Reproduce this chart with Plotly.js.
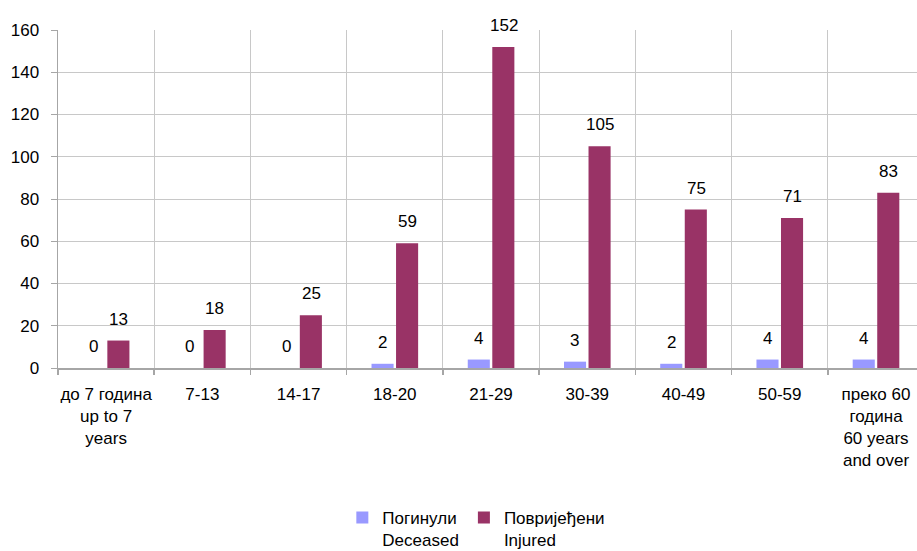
<!DOCTYPE html>
<html>
<head>
<meta charset="utf-8">
<script src="https://cdn.plot.ly/plotly-3.0.1.min.js"></script>
<style>html,body{margin:0;padding:0;background:#fff;}#chart{width:917px;height:551px;}</style>
</head>
<body>
<div id="chart"></div>
<script>
const categories = ["до 7 година<br>up to 7<br>years", "7-13", "14-17", "18-20", "21-29", "30-39", "40-49", "50-59", "преко 60<br>година<br>60 years<br>and over"];
const deceased = [0, 0, 0, 2, 4, 3, 2, 4, 4];
const injured = [13, 18, 25, 59, 152, 105, 75, 71, 83];
const deceasedName = "Погинули<br>Deceased";
const injuredName = "Повријеђени<br>Injured";
const yTicks = [0, 20, 40, 60, 80, 100, 120, 140, 160];

const FONT = "Liberation Sans, Arial, sans-serif";
const FS = 17;
const idx = categories.map((_, i) => i);

const traces = [
  {type: "bar", name: deceasedName, x: idx, y: deceased, marker: {color: "#9999FF"}, hoverinfo: "y"},
  {type: "bar", name: injuredName, x: idx, y: injured, marker: {color: "#993366"}, hoverinfo: "y"}
];

const annotations = [];
deceased.forEach((v, i) => annotations.push({x: i, y: v, text: String(v), showarrow: false, xref: "x", yref: "y", yanchor: "bottom", xshift: -12.5, yshift: 10, font: {family: FONT, size: FS, color: "#000"}}));
injured.forEach((v, i) => annotations.push({x: i, y: v, text: String(v), showarrow: false, xref: "x", yref: "y", yanchor: "bottom", xshift: 12.5, yshift: 10, font: {family: FONT, size: FS, color: "#000"}}));

const layout = {
  width: 917, height: 551,
  margin: {l: 58, r: 0, t: 30, b: 183, autoexpand: false},
  paper_bgcolor: "#fff", plot_bgcolor: "#fff",
  font: {family: FONT, size: FS, color: "#000"},
  barmode: "group",
  bargap: 0.49,
  bargroupgap: 0.1,
  showlegend: true,
  legend: {orientation: "h", x: 0.487, xanchor: "center", yref: "container", y: 0.0926, yanchor: "top", valign: "top", font: {family: FONT, size: FS}, itemwidth: 30, tracegroupgap: 0},
  xaxis: {
    type: "linear",
    range: [-0.5, 8.426],
    tickmode: "array",
    tickvals: idx,
    ticktext: categories,
    showgrid: false,
    zeroline: false,
    showline: true, linecolor: "#A6A6A6", linewidth: 1.5,
    ticks: "", tickfont: {family: FONT, size: FS},
    ticklabelstandoff: 10,
    fixedrange: true
  },
  xaxis2: {
    overlaying: "x", matches: "x",
    type: "linear",
    range: [-0.5, 8.426],
    tickmode: "array",
    tickvals: [-0.5, 0.5, 1.5, 2.5, 3.5, 4.5, 5.5, 6.5, 7.5],
    showticklabels: false,
    showgrid: true, gridcolor: "#C8C8C8", gridwidth: 1,
    ticks: "outside", ticklen: 6, tickcolor: "#A6A6A6", tickwidth: 1.5,
    zeroline: false
  },
  yaxis: {
    range: [0, 160],
    tickmode: "array",
    tickvals: yTicks,
    showgrid: true, gridcolor: "#C8C8C8", gridwidth: 1,
    zeroline: false,
    showline: true, linecolor: "#A6A6A6", linewidth: 1.5,
    ticks: "outside", ticklen: 6, tickcolor: "#A6A6A6",
    tickfont: {family: FONT, size: FS},
    ticklabelstandoff: 8,
    fixedrange: true
  },
  annotations: annotations
};

traces.push({type: "scatter", x: [0], y: [0], xaxis: "x2", mode: "none", showlegend: false, hoverinfo: "skip"});

Plotly.newPlot("chart", traces, layout, {displayModeBar: false, staticPlot: true});
</script>
</body>
</html>
